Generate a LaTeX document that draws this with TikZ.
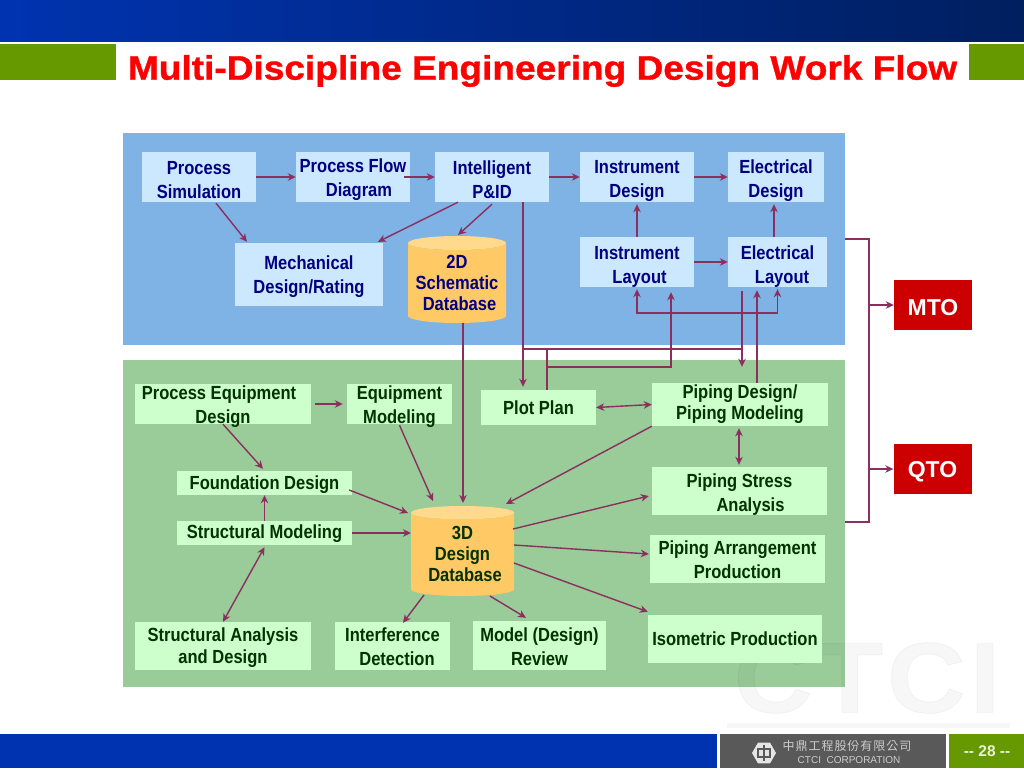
\documentclass[tikz,border=0pt]{standalone}
\usepackage{fontspec}
\setmainfont{Liberation Sans}[FakeStretch=0.87]
\newfontfamily\plainfont{Liberation Sans}
\newfontfamily\titlefont[FakeStretch=1.09,FakeBold=1]{Liberation Sans}
\newfontfamily\cjkfont[LetterSpace=8]{Noto Sans CJK TC}
\usetikzlibrary{arrows.meta,positioning,shapes.geometric,calc}
\definecolor{skypanel}{HTML}{7FB2E5}
\definecolor{leafpanel}{HTML}{99CC99}
\definecolor{skybox}{HTML}{CCE8FF}
\definecolor{leafbox}{HTML}{CCFFCC}
\definecolor{navytext}{HTML}{000080}
\definecolor{leaftext}{HTML}{003300}
\definecolor{linkwine}{HTML}{8C2F5F}
\definecolor{dbbody}{HTML}{FFC966}
\definecolor{dbtop}{HTML}{FFD98C}
\definecolor{tagred}{HTML}{CC0000}
\definecolor{barolive}{HTML}{669900}
\definecolor{bargrey}{HTML}{595959}
\definecolor{barblue}{HTML}{0033B0}
\definecolor{barnavy}{HTML}{001F5F}
\newcommand{\tall}[1]{\rule{0pt}{#1pt}}

\begin{document}
\begin{tikzpicture}[
  x=1pt, y=-1pt,
  panel/.style={inner sep=0pt, minimum width=722pt},
  nudge/.style={execute at begin node={\rule{0pt}{#1}}},
  bluebox/.style={fill=skybox, text=navytext, inner sep=0pt, align=center, font=\fontsize{19}{24}\selectfont\bfseries},
  greenbox/.style={fill=leafbox, text=leaftext, inner sep=0pt, align=center, font=\fontsize{19}{24}\selectfont\bfseries},
  dbase/.style={cylinder, shape border rotate=90, shape aspect=.17, cylinder uses custom fill, cylinder body fill=dbbody, cylinder end fill=dbtop, inner sep=0pt, anchor=shape center, align=center, font=\fontsize{19}{21}\selectfont\bfseries},
  tag/.style={fill=tagred, text=white, inner sep=0pt, minimum width=78pt, minimum height=50pt, nudge=21pt, font=\fontsize{23}{24}\selectfont\bfseries\plainfont},
  link/.style={draw=linkwine, line width=1.4pt},
  edge/.style={link, -{Stealth[length=8pt,width=7.5pt,inset=2.5pt]}},
  dedge/.style={link, {Stealth[length=8pt,width=7.5pt,inset=2.5pt]}-{Stealth[length=8pt,width=7.5pt,inset=2.5pt]}}
]
\useasboundingbox (0,0) rectangle (1024,768);

\shade[left color=barblue, middle color=barblue, right color=barnavy, shading angle=90] (0,0) rectangle (1024,42);
\fill[barolive] (0,44) rectangle (116,80);
\fill[barolive] (969,44) rectangle (1024,80);
\node[text=red, inner sep=0pt, font=\fontsize{34}{36}\selectfont\bfseries\titlefont] (title) at (542.5,71) {Multi-Discipline Engineering Design Work Flow};

\node[panel, fill=skypanel, minimum height=212pt] (bluepanel) at (484,239) {};
\node[panel, fill=leafpanel, minimum height=327pt] (greenpanel) at (484,523.5) {};
\node[text=black, opacity=.03, inner sep=0pt, font=\fontsize{100}{100}\selectfont\bfseries\titlefont\addfontfeatures{LetterSpace=4}] (mark) at (867,678) {CTCI};

\fill[black!3] (727,723) rectangle (1010,728);
\fill[barblue] (0,734) rectangle (717,768);
\fill[bargrey] (720,734) rectangle (946,768);
\fill[barolive] (949,734) rectangle (1024,768);
\node[inner sep=0pt, font=\fontsize{15.5}{16}\selectfont\bfseries\plainfont, text=white!85!barolive] (pageno) at (987,751) {-- 28 --};
\node[regular polygon, regular polygon sides=6, fill=white!90!black, inner sep=0pt, minimum size=24pt] (logo) at (764,753) {};
\draw[bargrey, line width=1.2pt] (758,749) rectangle (770,757) (764,745) -- (764,761);
\node[text=white!80!black, inner sep=0pt, font=\fontsize{12}{14}\selectfont\cjkfont] (cname) at (847,746) {中鼎工程股份有限公司};
\node[text=white!80!black, inner sep=0pt, font=\fontsize{10}{12}\selectfont\plainfont] (ename) at (849,760) {CTCI\ \ CORPORATION};

\node[bluebox, minimum width=114pt, minimum height=50pt] (psim) at (199,177) {\tall{20}Process\\Simulation};
\node[bluebox, minimum width=114pt, minimum height=50pt] (pfd) at (353,177) {\tall{20}Process Flow\\\hspace*{12pt}Diagram};
\node[bluebox, minimum width=114pt, minimum height=50pt] (pid) at (492,177) {\tall{20}Intelligent\\P\&ID};
\node[bluebox, minimum width=114pt, minimum height=50pt] (instd) at (637,177) {\tall{21}Instrument\\Design};
\node[bluebox, minimum width=96pt, minimum height=50pt] (elecd) at (776,177) {\tall{21}Electrical\\Design};
\node[bluebox, minimum width=148pt, minimum height=63pt] (mech) at (309,274.5) {\tall{18}Mechanical\\Design/Rating};
\node[bluebox, minimum width=114pt, minimum height=50pt] (instl) at (637,262) {\tall{22}Instrument\\\hspace*{5pt}Layout};
\node[bluebox, minimum width=99pt, minimum height=50pt] (elecl) at (777.5,262) {\tall{22}Electrical\\\hspace*{9pt}Layout};
\node[dbase, text=navytext, minimum width=98pt, minimum height=87pt] (dbtwo) at (457,279.5) {2D\\Schematic\\\hspace*{5pt}Database};

\node[greenbox, minimum width=176pt, minimum height=40pt, inner ysep=-6pt] (peq) at (223,404) {\tall{20}Process Equipment\hspace*{8pt}\\Design};
\node[greenbox, minimum width=105pt, minimum height=40pt, inner ysep=-6pt] (eqm) at (399.5,404) {\tall{20}Equipment\\Modeling};
\node[greenbox, minimum width=115pt, minimum height=35pt] (plot) at (538.5,407.5) {Plot Plan};
\node[greenbox, minimum width=176pt, minimum height=43pt, font=\fontsize{19}{21}\selectfont\bfseries] (pipe) at (740,404.5) {Piping Design/\\Piping Modeling};
\node[greenbox, minimum width=175pt, minimum height=24pt, nudge=18pt] (fnd) at (264.5,483) {Foundation Design};
\node[greenbox, minimum width=175pt, minimum height=24pt, nudge=16pt] (smod) at (264.5,533) {Structural Modeling};
\node[greenbox, minimum width=175pt, minimum height=48pt] (stress) at (739.5,491) {\tall{20}Piping Stress\\\hspace*{22pt}Analysis};
\node[greenbox, minimum width=175pt, minimum height=48pt] (arr) at (737.5,559) {\tall{16}Piping Arrangement\\Production};
\node[greenbox, minimum width=174pt, minimum height=48pt] (iso) at (735,639) {Isometric Production};
\node[greenbox, minimum width=176pt, minimum height=48pt, font=\fontsize{19}{22}\selectfont\bfseries] (san) at (223,646) {\tall{18}Structural Analysis\\and Design};
\node[greenbox, minimum width=115pt, minimum height=48pt] (intf) at (392.5,646) {\tall{16}Interference\\\hspace*{9pt}Detection};
\node[greenbox, minimum width=133pt, minimum height=49pt] (rev) at (539.5,645.5) {\tall{16}Model (Design)\\Review};
\node[dbase, text=leaftext, minimum width=103pt, minimum height=90pt] (dbthree) at (462.5,551) {3D\\Design\\\hspace*{5pt}Database};

\node[tag] (mto) at (933,305) {MTO};
\node[tag] (qto) at (932.5,469) {QTO};

\coordinate (bluetap) at (845,239);
\coordinate (greentap) at (845,522);
\coordinate (trunktop) at (869,239);
\coordinate (trunkbot) at (869,522);
\coordinate (pidbus) at (523,349);
\coordinate (plotbus) at (547,349);
\coordinate (elecbus) at (742,349);
\coordinate (plotrise) at (547,367);
\coordinate (layoutbus) at (700,313);

\draw[edge] (psim) -- (pfd);
\draw[edge] ([xshift=-6pt]pfd.east) -- (pid.west);
\draw[edge] (pid) -- (instd);
\draw[edge] (instd) -- (elecd);
\draw[edge] ([xshift=17pt,yshift=-1pt]psim.south) -- ([xshift=-62pt,yshift=1pt]mech.north);
\draw[edge] ([xshift=-34pt]pid.south) -- ([xshift=69pt,yshift=1pt]mech.north);
\draw[edge] ([yshift=-2pt]pid.south) -- ([xshift=1pt,yshift=44.5pt]dbtwo.shape center);
\draw[edge] ([xshift=6pt,yshift=-43.5pt]dbtwo.shape center) -- ([xshift=.5pt,yshift=48pt]dbthree.shape center);
\draw[edge] (instl.north) -- ([yshift=-2pt]instd.south);
\draw[edge] ([xshift=-3.5pt]elecl.north) -- ([xshift=-2pt,yshift=-2pt]elecd.south);
\draw[edge] (instl) -- (elecl);
\draw[edge] ([xshift=31pt]pid.south) -- ([xshift=-15.5pt,yshift=3pt]plot.north);
\draw[link] (pidbus) -- (elecbus);
\draw[link] ([xshift=8.5pt]plot.north) -- (plotbus);
\draw[edge] (plotrise) -| ([xshift=34pt,yshift=-5pt]instl.south);
\draw[edge] ([xshift=-35.5pt,yshift=-4pt]elecl.south) -- ([xshift=2pt,yshift=16pt]pipe.north);
\draw[edge] ([xshift=17pt]pipe.north) -- ([xshift=-20.5pt,yshift=-3pt]elecl.south);
\draw[dedge] ([yshift=-2pt]instl.south) |- (layoutbus) -| ([yshift=-2pt]elecl.south);
\draw[dedge] (plot.east) -- (pipe.west);
\draw[dedge] ([xshift=-1pt,yshift=-2pt]pipe.south) -- ([xshift=-.5pt,yshift=2pt]stress.north);
\draw[edge] (pipe.south west) -- ([xshift=43.5pt,yshift=47pt]dbthree.shape center);
\draw[edge] ([xshift=50.5pt,yshift=22pt]dbthree.shape center) -- ([xshift=-3pt,yshift=-5pt]stress.west);
\draw[edge] ([xshift=51.5pt,yshift=6pt]dbthree.shape center) -- ([xshift=-1pt,yshift=5pt]arr.west);
\draw[edge] ([xshift=51.5pt,yshift=-12pt]dbthree.shape center) -- ([yshift=3pt]iso.north west);
\draw[edge] ([xshift=27.5pt,yshift=-45pt]dbthree.shape center) -- ([xshift=-13.5pt,yshift=3pt]rev.north);
\draw[edge] ([xshift=-38.5pt,yshift=-44pt]dbthree.shape center) -- ([xshift=10.5pt,yshift=-1pt]intf.north);
\draw[edge] ([xshift=4pt]peq.east) -- ([xshift=-4pt]eqm.west);
\draw[edge] (peq.south) -- ([xshift=-1.5pt,yshift=2pt]fnd.north);
\draw[edge] ([yshift=-1pt]eqm.south) -- ([xshift=-29.5pt,yshift=50pt]dbthree.shape center);
\draw[edge] ([xshift=-3pt,yshift=-7pt]fnd.east) -- ([xshift=-54.5pt,yshift=38pt]dbthree.shape center);
\draw[edge] (smod.east) -- ([xshift=-51.5pt,yshift=18pt]dbthree.shape center);
\draw[edge] (smod.north) -- (fnd.south);
\draw[dedge] (san.north) -- ([yshift=-2pt]smod.south);
\draw[link] (bluetap) -- (trunktop) -- (trunkbot) -- (greentap);
\draw[edge] (trunktop |- mto.west) -- (mto.west);
\draw[edge] (trunktop |- qto.west) -- (qto.west);
\end{tikzpicture}
\end{document}
